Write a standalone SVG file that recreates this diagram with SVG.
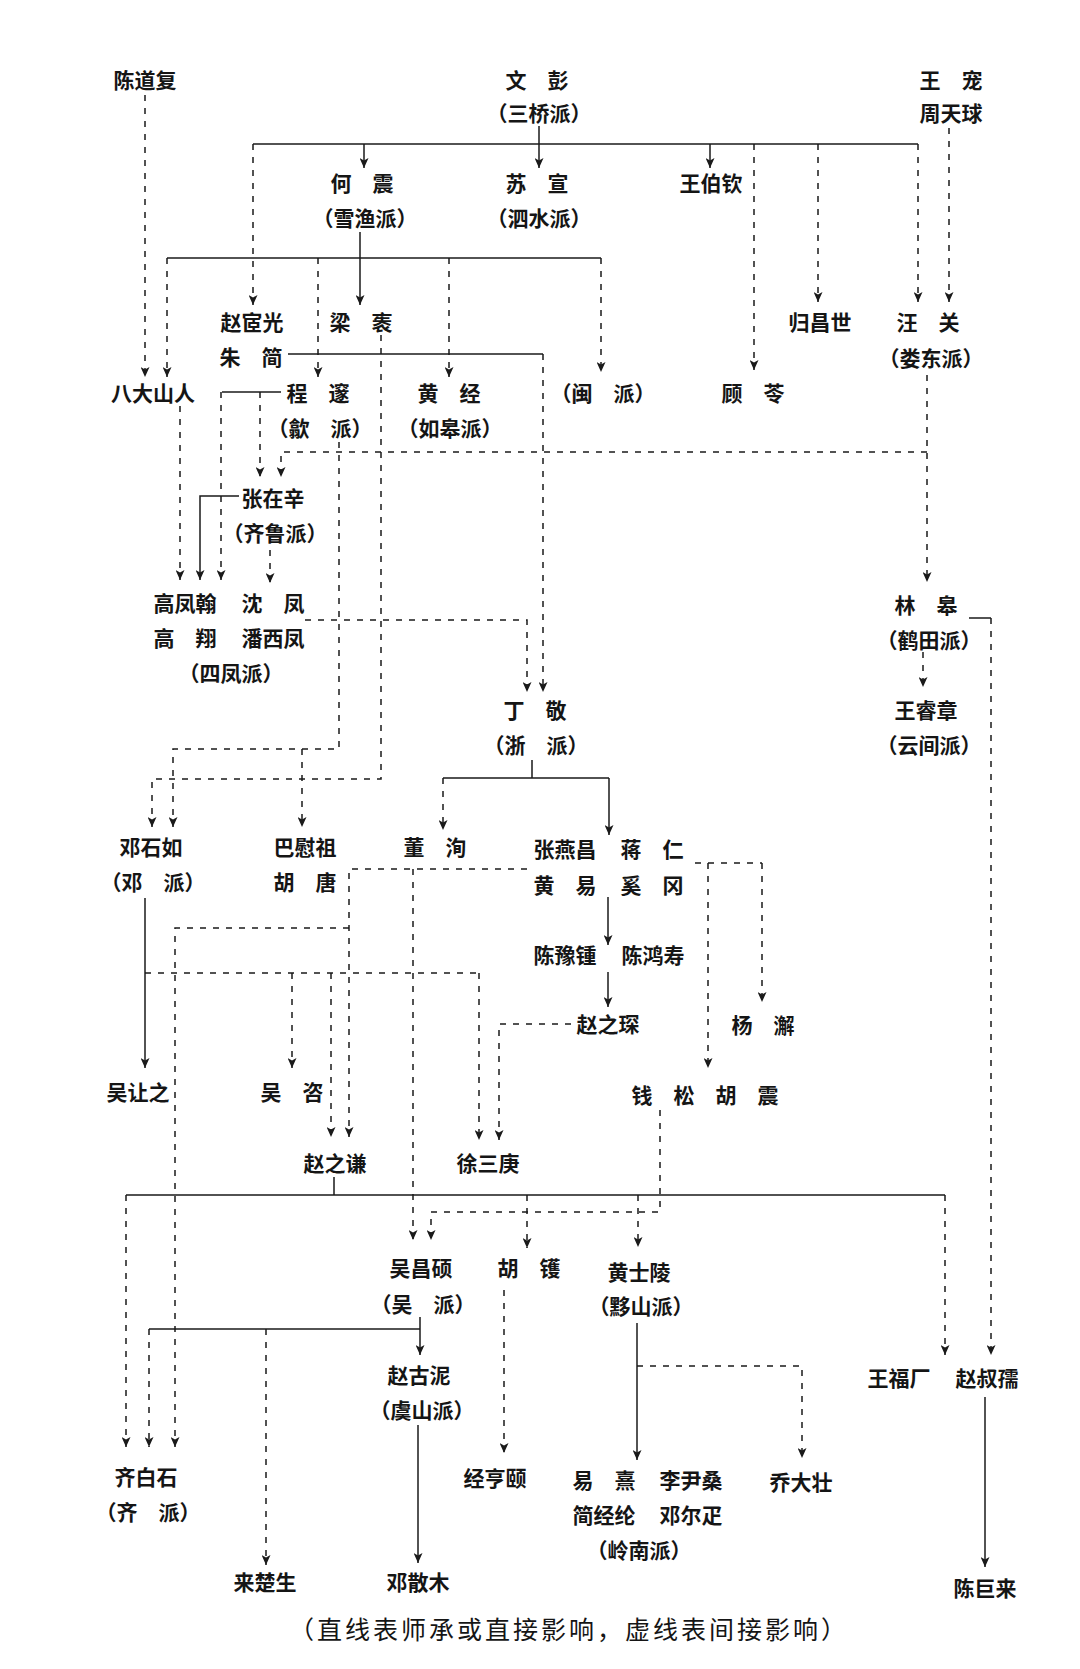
<svg xmlns="http://www.w3.org/2000/svg" width="1080" height="1669" viewBox="0 0 1080 1669">
<style>
.t{font-family:"Noto Sans CJK SC","Noto Sans CJK JP",sans-serif;font-size:21px;font-weight:700;fill:#151515;text-anchor:middle}
.f{font-family:"Noto Sans CJK SC","Noto Sans CJK JP",sans-serif;font-size:25px;font-weight:400;fill:#151515;text-anchor:middle;letter-spacing:3px}
.s{fill:none;stroke:#1a1a1a;stroke-width:1.5}
.d{fill:none;stroke:#1a1a1a;stroke-width:1.5;stroke-dasharray:6 7}
.a{marker-end:url(#ah)}
</style>
<defs>
<marker id="ah" markerUnits="userSpaceOnUse" markerWidth="11" markerHeight="9" refX="10" refY="4.5" orient="auto">
<path d="M0,0 L10,4.5 L0,9 L2.5,4.5 z" fill="#1a1a1a"/>
</marker>
</defs>
<rect width="1080" height="1669" fill="#ffffff"/>

<g id="connectors">
<!-- 文彭 -->
<path class="s" d="M253,144 H918"/>
<path class="s a" d="M539,126 V168"/>
<path class="s a" d="M364,144 V168"/>
<path class="s a" d="M710,144 V168"/>
<path class="d a" d="M253,144 V305"/>
<path class="d a" d="M754,144 V370"/>
<path class="d a" d="M818,144 V302"/>
<path class="d a" d="M918,144 V302"/>
<path class="d a" d="M949,128 V302"/>
<path class="d a" d="M145,95 V377"/>
<!-- 何震 -->
<path class="s" d="M167,258 H601"/>
<path class="s a" d="M360,232 V305"/>
<path class="d a" d="M167,258 V377"/>
<path class="d a" d="M318,258 V377"/>
<path class="d a" d="M449,258 V377"/>
<path class="d a" d="M601,258 V372"/>
<!-- 朱简 -->
<path class="s" d="M288,354 H543"/>
<path class="d a" d="M543,354 V692"/>
<!-- 梁袠 -->
<path class="d a" d="M381,335 V779 H152 V827"/>
<!-- 程邃 -->
<path class="s" d="M222,392 H281"/>
<path class="d a" d="M221,392 V580"/>
<path class="d a" d="M260,392 V477"/>
<path class="d a" d="M339,442 V749 H173 V827"/>
<path class="d a" d="M302,749 V827"/>
<!-- 八大山人 -->
<path class="d a" d="M180,406 V580"/>
<!-- 汪关 -->
<path class="d a" d="M927,375 V582"/>
<path class="d a" d="M927,452 H281 V477"/>
<!-- 张在辛 -->
<path class="s a" d="M239,496 H200 V580"/>
<path class="d a" d="M270,550 V583"/>
<!-- 沈凤 -->
<path class="d a" d="M305,620 H527 V692"/>
<!-- 林皋 -->
<path class="s" d="M969,618 H991"/>
<path class="d a" d="M991,618 V1355"/>
<path class="d a" d="M923,652 V687"/>
<!-- 丁敬 -->
<path class="s" d="M532,760 V778 M443,778 H609"/>
<path class="d a" d="M443,778 V830"/>
<path class="s a" d="M609,778 V835"/>
<!-- 张燕昌 group -->
<path class="s a" d="M608,897 V945"/>
<path class="s a" d="M608,972 V1007"/>
<path class="d" d="M695,863 H762"/>
<path class="d a" d="M762,863 V1002"/>
<path class="d a" d="M708,863 V1068"/>
<path class="d a" d="M527,869 H349 V1137"/>
<path class="d a" d="M413,869 V1240"/>
<path class="d a" d="M349,928 H175 V1447"/>
<!-- 邓石如 -->
<path class="s a" d="M145,898 V1068"/>
<path class="d" d="M145,973 H479"/>
<path class="d a" d="M292,973 V1068"/>
<path class="d a" d="M331,973 V1137"/>
<path class="d a" d="M479,973 V1140"/>
<!-- 赵之琛 -->
<path class="d a" d="M571,1024 H499 V1140"/>
<!-- 赵之谦 -->
<path class="s" d="M334,1177 V1195 M126,1195 H945"/>
<path class="d a" d="M126,1195 V1447"/>
<path class="d a" d="M527,1195 V1248"/>
<path class="d a" d="M638,1195 V1247"/>
<path class="d a" d="M945,1195 V1355"/>
<!-- 钱松 -->
<path class="d a" d="M660,1110 V1212 H431 V1240"/>
<!-- 吴昌硕 -->
<path class="s a" d="M420,1317 V1355"/>
<path class="s" d="M149,1329 H420"/>
<path class="d a" d="M149,1329 V1447"/>
<path class="d a" d="M266,1329 V1565"/>
<!-- 胡镬 -->
<path class="d a" d="M504,1290 V1453"/>
<!-- 赵古泥 -->
<path class="s a" d="M418,1425 V1563"/>
<!-- 黄士陵 -->
<path class="s a" d="M637,1323 V1460"/>
<path class="d a" d="M637,1366 H802 V1458"/>
<!-- 赵叔孺 -->
<path class="s a" d="M985,1397 V1567"/>
</g>

<g id="n-chendaofu"><text class="t" x="145" y="88">陈道复</text></g>
<g id="n-wenpeng"><text class="t" x="537" y="88">文　彭</text><text class="t" x="539" y="121">（三桥派）</text></g>
<g id="n-wangchong"><text class="t" x="951" y="88">王　宠</text><text class="t" x="951" y="121">周天球</text></g>
<g id="n-hezhen"><text class="t" x="362" y="191">何　震</text><text class="t" x="365" y="226">（雪渔派）</text></g>
<g id="n-suxuan"><text class="t" x="537" y="191">苏　宣</text><text class="t" x="539" y="226">（泗水派）</text></g>
<g id="n-wangboqin"><text class="t" x="711" y="191">王伯钦</text></g>
<g id="n-zhaoyiguang"><text class="t" x="252" y="330">赵宧光</text></g>
<g id="n-liangzhi"><text class="t" x="361" y="330">梁　袠</text></g>
<g id="n-zhujian"><text class="t" x="251" y="365">朱　简</text></g>
<g id="n-guichangshi"><text class="t" x="820" y="330">归昌世</text></g>
<g id="n-wangguan"><text class="t" x="928" y="330">汪　关</text><text class="t" x="931" y="366">（娄东派）</text></g>
<g id="n-badashanren"><text class="t" x="153" y="401">八大山人</text></g>
<g id="n-chengsui"><text class="t" x="318" y="401">程　邃</text><text class="t" x="320" y="436">（歙　派）</text></g>
<g id="n-huangjing"><text class="t" x="449" y="401">黄　经</text><text class="t" x="450" y="436">（如皋派）</text></g>
<g id="n-minpai"><text class="t" x="603" y="401">（闽　派）</text></g>
<g id="n-guling"><text class="t" x="753" y="401">顾　苓</text></g>
<g id="n-zhangzaixin"><text class="t" x="273" y="506">张在辛</text><text class="t" x="275" y="541">（齐鲁派）</text></g>
<g id="n-sifeng"><text class="t" x="185" y="611">高凤翰</text><text class="t" x="273" y="611">沈　凤</text><text class="t" x="185" y="646">高　翔</text><text class="t" x="273" y="646">潘西凤</text><text class="t" x="231" y="681">（四凤派）</text></g>
<g id="n-linggao"><text class="t" x="926" y="613">林　皋</text><text class="t" x="929" y="648">（鹤田派）</text></g>
<g id="n-wangruizhang"><text class="t" x="926" y="718">王睿章</text><text class="t" x="929" y="753">（云间派）</text></g>
<g id="n-dingjing"><text class="t" x="535" y="718">丁　敬</text><text class="t" x="536" y="753">（浙　派）</text></g>
<g id="n-dengshiru"><text class="t" x="151" y="855">邓石如</text><text class="t" x="153" y="890">（邓　派）</text></g>
<g id="n-baweizu"><text class="t" x="305" y="855">巴慰祖</text><text class="t" x="305" y="890">胡　唐</text></g>
<g id="n-dongxun"><text class="t" x="435" y="855">董　洵</text></g>
<g id="n-xiling"><text class="t" x="565" y="857">张燕昌</text><text class="t" x="652" y="857">蒋　仁</text><text class="t" x="565" y="893">黄　易</text><text class="t" x="652" y="893">奚　冈</text></g>
<g id="n-chenyuzhong"><text class="t" x="565" y="963">陈豫锺</text><text class="t" x="653" y="963">陈鸿寿</text></g>
<g id="n-zhaozhichen"><text class="t" x="608" y="1032">赵之琛</text></g>
<g id="n-yangxie"><text class="t" x="763" y="1033">杨　澥</text></g>
<g id="n-wurangzhi"><text class="t" x="138" y="1100">吴让之</text></g>
<g id="n-wuzi"><text class="t" x="292" y="1100">吴　咨</text></g>
<g id="n-qiansong"><text class="t" x="705" y="1103">钱　松　胡　震</text></g>
<g id="n-zhaozhiqian"><text class="t" x="335" y="1171">赵之谦</text></g>
<g id="n-xusangeng"><text class="t" x="488" y="1171">徐三庚</text></g>
<g id="n-wuchangshuo"><text class="t" x="421" y="1276">吴昌硕</text><text class="t" x="423" y="1312">（吴　派）</text></g>
<g id="n-hujue"><text class="t" x="529" y="1276">胡　镬</text></g>
<g id="n-huangshiling"><text class="t" x="639" y="1280">黄士陵</text><text class="t" x="641" y="1314">（黟山派）</text></g>
<g id="n-zhaoguni"><text class="t" x="419" y="1383">赵古泥</text><text class="t" x="422" y="1418">（虞山派）</text></g>
<g id="n-wangfuan"><text class="t" x="899" y="1386">王福厂</text></g>
<g id="n-zhaoshuru"><text class="t" x="987" y="1386">赵叔孺</text></g>
<g id="n-qibaishi"><text class="t" x="146" y="1485">齐白石</text><text class="t" x="148" y="1520">（齐　派）</text></g>
<g id="n-jinghengyi"><text class="t" x="495" y="1486">经亨颐</text></g>
<g id="n-lingnan"><text class="t" x="604" y="1488">易　熹</text><text class="t" x="691" y="1488">李尹桑</text><text class="t" x="604" y="1523">简经纶</text><text class="t" x="691" y="1523">邓尔疋</text><text class="t" x="639" y="1558">（岭南派）</text></g>
<g id="n-qiaodazhuang"><text class="t" x="801" y="1490">乔大壮</text></g>
<g id="n-laichusheng"><text class="t" x="265" y="1590">来楚生</text></g>
<g id="n-dengsanmu"><text class="t" x="418" y="1590">邓散木</text></g>
<g id="n-chenjulai"><text class="t" x="985" y="1596">陈巨来</text></g>
<g id="legend"><text class="f" x="569" y="1639">（直线表师承或直接影响，虚线表间接影响）</text></g>
</svg>
